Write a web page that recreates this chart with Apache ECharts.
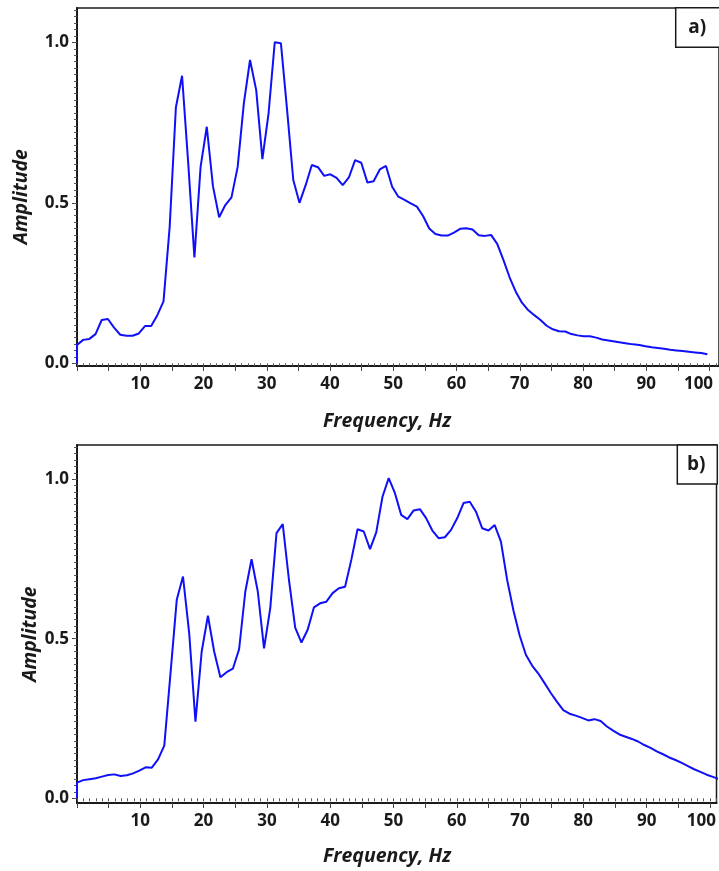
<!DOCTYPE html>
<html>
<head>
<meta charset="utf-8">
<script src="https://cdn.jsdelivr.net/npm/echarts@6/dist/echarts.min.js"></script>
<style>
  html, body { margin: 0; padding: 0; background: #fff; }
  #chart { width: 719px; height: 871px; }
</style>
</head>
<body>
<div id="chart"></div>
<script>
// 频率步长（FFT 分辨率），两幅图略有不同
const dfA = 0.977;
const dfB = 0.985;

// a) 振幅
const ampA = [0.057, 0.073, 0.076, 0.091, 0.135, 0.138, 0.111, 0.089, 0.086, 0.086,
  0.093, 0.116, 0.116, 0.150, 0.193, 0.426, 0.797, 0.896, 0.623, 0.330,
  0.612, 0.737, 0.552, 0.455, 0.493, 0.517, 0.612, 0.810, 0.945, 0.851,
  0.636, 0.779, 1.000, 0.997, 0.789, 0.571, 0.500, 0.555, 0.618, 0.611,
  0.584, 0.589, 0.578, 0.555, 0.579, 0.633, 0.625, 0.563, 0.567, 0.604,
  0.615, 0.550, 0.519, 0.509, 0.498, 0.488, 0.459, 0.420, 0.403, 0.398,
  0.398, 0.407, 0.419, 0.421, 0.417, 0.399, 0.397, 0.400, 0.372, 0.322,
  0.268, 0.223, 0.189, 0.166, 0.150, 0.135, 0.117, 0.106, 0.100, 0.099,
  0.091, 0.087, 0.084, 0.084, 0.080, 0.074, 0.071, 0.068, 0.065, 0.062,
  0.059, 0.057, 0.053, 0.050, 0.048, 0.045, 0.042, 0.040, 0.038, 0.036,
  0.034, 0.032, 0.028];

// b) 振幅
const ampB = [0.049, 0.057, 0.060, 0.063, 0.068, 0.073, 0.075, 0.070, 0.072, 0.078,
  0.087, 0.097, 0.096, 0.122, 0.165, 0.392, 0.622, 0.695, 0.517, 0.240,
  0.460, 0.572, 0.460, 0.379, 0.395, 0.406, 0.467, 0.648, 0.749, 0.648,
  0.470, 0.596, 0.831, 0.859, 0.684, 0.535, 0.488, 0.528, 0.598, 0.611,
  0.616, 0.643, 0.658, 0.663, 0.747, 0.843, 0.836, 0.781, 0.833, 0.945,
  1.003, 0.956, 0.888, 0.875, 0.902, 0.906, 0.878, 0.839, 0.815, 0.818,
  0.841, 0.878, 0.925, 0.929, 0.898, 0.846, 0.839, 0.856, 0.804, 0.684,
  0.589, 0.510, 0.450, 0.416, 0.391, 0.361, 0.330, 0.302, 0.276, 0.265,
  0.259, 0.252, 0.244, 0.248, 0.242, 0.225, 0.212, 0.200, 0.193, 0.186,
  0.178, 0.167, 0.158, 0.147, 0.138, 0.128, 0.120, 0.111, 0.101, 0.091,
  0.083, 0.074, 0.067, 0.060];

// 刻度
const xLabels = [10, 20, 30, 40, 50, 60, 70, 80, 90, 100];
const xMidTicks = [0, 5, 10, 15, 20, 25, 30, 35, 40, 45, 50, 55, 60, 65, 70, 75, 80, 85, 90, 95, 100];
const yLabels = [0, 0.5, 1.0];

let xMinorTicks = [];
for (let i = 0; i <= 101; i++) xMinorTicks.push(i);
let yMinorTicks = [];
for (let i = 0; i <= 55; i++) yMinorTicks.push(+(i * 0.02).toFixed(2));

function toPoints(amp, df) {
    let pts = [[0, 0]];
    amp.forEach(function (a, i) { pts.push([+(i * df).toFixed(3), a]); });
    return pts;
}

const font = '"Open Sans", "Liberation Sans", sans-serif';
const ink = '#1a1a1a';

function xAxes(gi, xmax, pr) {
    return [{
        type: 'value', gridIndex: gi, min: 0, max: xmax, position: 'bottom',
        axisLine: { show: true, onZero: false, lineStyle: { color: ink, width: 2 } },
        axisTick: { show: true, customValues: xMidTicks, length: 5, lineStyle: { color: '#444', width: 1 } },
        axisLabel: {
            customValues: xLabels, margin: 10, color: ink, fontFamily: font, fontWeight: 'bold', fontSize: 17,
            formatter: function (v) { return v === 100 ? '{s|100}' : String(v); },
            rich: { s: { fontFamily: font, fontWeight: 'bold', fontSize: 17, color: ink, padding: [0, pr, 0, 0] } }
        },
        splitLine: { show: false }
    }, {
        type: 'value', gridIndex: gi, min: 0, max: xmax, position: 'bottom',
        axisLine: { show: false },
        axisTick: { show: true, customValues: xMinorTicks, length: 3, lineStyle: { color: '#555', width: 1 } },
        axisLabel: { show: false },
        splitLine: { show: false }
    }];
}

function yAxes(gi, ymin, ymax) {
    return [{
        type: 'value', gridIndex: gi, min: ymin, max: ymax,
        axisLine: { show: true, lineStyle: { color: ink, width: 2 } },
        axisTick: { show: true, customValues: yLabels, length: 5, lineStyle: { color: '#444', width: 1 } },
        axisLabel: {
            customValues: yLabels, margin: 8, color: ink, fontFamily: font, fontWeight: 'bold', fontSize: 17,
            formatter: function (v) { return v.toFixed(1); }
        },
        splitLine: { show: false }
    }, {
        type: 'value', gridIndex: gi, min: ymin, max: ymax, position: 'left',
        axisLine: { show: false },
        axisTick: { show: true, customValues: yMinorTicks, length: 3, lineStyle: { color: '#555', width: 1 } },
        axisLabel: { show: false },
        splitLine: { show: false }
    }];
}

function titleText(x, y, text, rot) {
    return {
        type: 'text', x: x, y: y, rotation: rot || 0, silent: true,
        style: {
            text: text, fill: ink, font: 'italic bold 19.5px ' + font,
            textAlign: 'center', textVerticalAlign: 'middle'
        }
    };
}

function tagBox(x, y, w, h, text) {
    return [{
        type: 'rect', shape: { x: x, y: y, width: w, height: h }, silent: true,
        style: { fill: '#fff', stroke: ink, lineWidth: 1.5 }
    }, {
        type: 'text', x: x + w / 2 - 1, y: y + h / 2, silent: true,
        style: { text: text, fill: ink, font: 'bold 19px ' + font, textAlign: 'center', textVerticalAlign: 'middle' }
    }];
}

let chart = echarts.init(document.getElementById('chart'));
let option = {
    animation: false,
    backgroundColor: '#fff',
    grid: [
        { left: 77, right: -1, top: 8, height: 358, show: true, borderColor: ink, borderWidth: 1.5 },
        { left: 77, right: 2, top: 445, height: 358, show: true, borderColor: ink, borderWidth: 1.5 }
    ],
    xAxis: xAxes(0, 101.5, 22).concat(xAxes(1, 101.04, 17)),
    yAxis: yAxes(0, -0.0084, 1.107).concat(yAxes(1, -0.0147, 1.107)),
    series: [{
        type: 'line', xAxisIndex: 0, yAxisIndex: 0, data: toPoints(ampA, dfA),
        showSymbol: false, lineStyle: { color: '#1010f8', width: 2 }, z: 3
    }, {
        type: 'line', xAxisIndex: 2, yAxisIndex: 2, data: toPoints(ampB, dfB),
        showSymbol: false, lineStyle: { color: '#1010f8', width: 2 }, z: 3
    }],
    graphic: [
        titleText(387, 421.7, 'Frequency, Hz'),
        titleText(387, 856.7, 'Frequency, Hz'),
        titleText(21, 196.7, 'Amplitude', Math.PI / 2),
        titleText(30, 634, 'Amplitude', Math.PI / 2)
    ].concat(tagBox(675.7, 7.7, 45, 39.6, 'a)'), tagBox(677.3, 445, 40, 39, 'b)'))
};
chart.setOption(option);
</script>
</body>
</html>
